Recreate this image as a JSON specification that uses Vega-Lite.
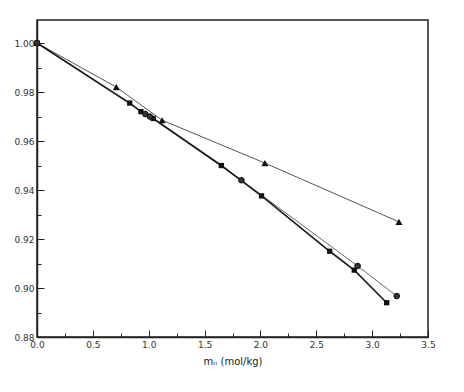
{
  "$schema": "https://vega.github.io/schema/vega-lite/v6.json",
  "width": 391,
  "height": 317,
  "autosize": "none",
  "padding": {"left": 37, "top": 20, "right": 36, "bottom": 55},
  "background": "#ffffff",
  "config": {
    "view": {"stroke": "#222222", "strokeWidth": 1.5},
    "axis": {
      "domainColor": "#222222",
      "domainWidth": 1.5,
      "tickColor": "#222222",
      "labelFont": "DejaVu Sans",
      "labelFontSize": 9,
      "labelColor": "#333333",
      "titleFont": "DejaVu Sans",
      "titleFontSize": 10,
      "titleFontWeight": "normal",
      "titleColor": "#222222",
      "grid": false
    }
  },
  "data": {
    "values": [
      {"s": "tri", "x": 0.0, "y": 1.0},
      {"s": "tri", "x": 0.71, "y": 0.982},
      {"s": "tri", "x": 1.12, "y": 0.9685},
      {"s": "tri", "x": 2.04, "y": 0.951},
      {"s": "tri", "x": 3.24, "y": 0.927},
      {"s": "sq", "x": 0.0, "y": 1.0},
      {"s": "sq", "x": 0.83, "y": 0.9755},
      {"s": "sq", "x": 0.93, "y": 0.972},
      {"s": "sq", "x": 1.04, "y": 0.9692},
      {"s": "sq", "x": 1.65, "y": 0.950},
      {"s": "sq", "x": 2.01, "y": 0.9376},
      {"s": "sq", "x": 2.62, "y": 0.915},
      {"s": "sq", "x": 2.84, "y": 0.9073},
      {"s": "sq", "x": 3.13, "y": 0.894},
      {"s": "ci", "x": 0.0, "y": 1.0},
      {"s": "ci", "x": 0.97, "y": 0.971},
      {"s": "ci", "x": 1.01, "y": 0.970},
      {"s": "ci", "x": 1.83, "y": 0.944},
      {"s": "ci", "x": 2.87, "y": 0.909},
      {"s": "ci", "x": 3.22, "y": 0.8967}
    ]
  },
  "encoding": {
    "x": {
      "field": "x", "type": "quantitative",
      "scale": {"domain": [0, 3.5], "nice": false, "zero": false},
      "axis": {
        "title": "mₙ (mol/kg)",
        "titlePadding": 7,
        "values": [0, 0.25, 0.5, 0.75, 1, 1.25, 1.5, 1.75, 2, 2.25, 2.5, 2.75, 3, 3.25, 3.5],
        "labelExpr": "datum.value % 0.5 === 0 ? format(datum.value, '.1f') : ''",
        "tickSize": {"condition": {"test": "datum.value % 0.5 === 0", "value": -7}, "value": -4},
        "labelPadding": 10,
        "labelFlush": false
      }
    },
    "y": {
      "field": "y", "type": "quantitative",
      "scale": {"domain": [0.88, 1.0094], "nice": false, "zero": false},
      "axis": {
        "title": null,
        "values": [0.88, 0.89, 0.9, 0.91, 0.92, 0.93, 0.94, 0.95, 0.96, 0.97, 0.98, 0.99, 1.0],
        "labelExpr": "round(datum.value * 100) % 2 === 0 ? format(datum.value, '.2f') : ''",
        "tickSize": {"condition": {"test": "round(datum.value * 100) % 2 === 0", "value": -7}, "value": -4},
        "labelPadding": 10,
        "labelFlush": false
      }
    }
  },
  "layer": [
    {
      "transform": [{"filter": "datum.s === 'tri'"}],
      "mark": {"type": "line", "color": "#555555", "strokeWidth": 1},
      "encoding": {"order": {"field": "x"}}
    },
    {
      "transform": [{"filter": "datum.s === 'ci'"}],
      "mark": {"type": "line", "color": "#666666", "strokeWidth": 1},
      "encoding": {"order": {"field": "x"}}
    },
    {
      "transform": [{"filter": "datum.s === 'sq'"}],
      "mark": {"type": "line", "color": "#1a1a1a", "strokeWidth": 1.6},
      "encoding": {"order": {"field": "x"}}
    },
    {
      "transform": [{"filter": "datum.s === 'tri'"}],
      "mark": {"type": "point", "shape": "triangle-up", "filled": true, "color": "#111111", "size": 50, "opacity": 1}
    },
    {
      "transform": [{"filter": "datum.s === 'sq'"}],
      "mark": {"type": "point", "shape": "square", "filled": true, "color": "#111111", "size": 28, "opacity": 1}
    },
    {
      "transform": [{"filter": "datum.s === 'ci'"}],
      "mark": {"type": "point", "shape": "circle", "filled": true, "color": "#333333", "size": 32, "opacity": 1, "stroke": "#111111", "strokeWidth": 1}
    }
  ]
}
